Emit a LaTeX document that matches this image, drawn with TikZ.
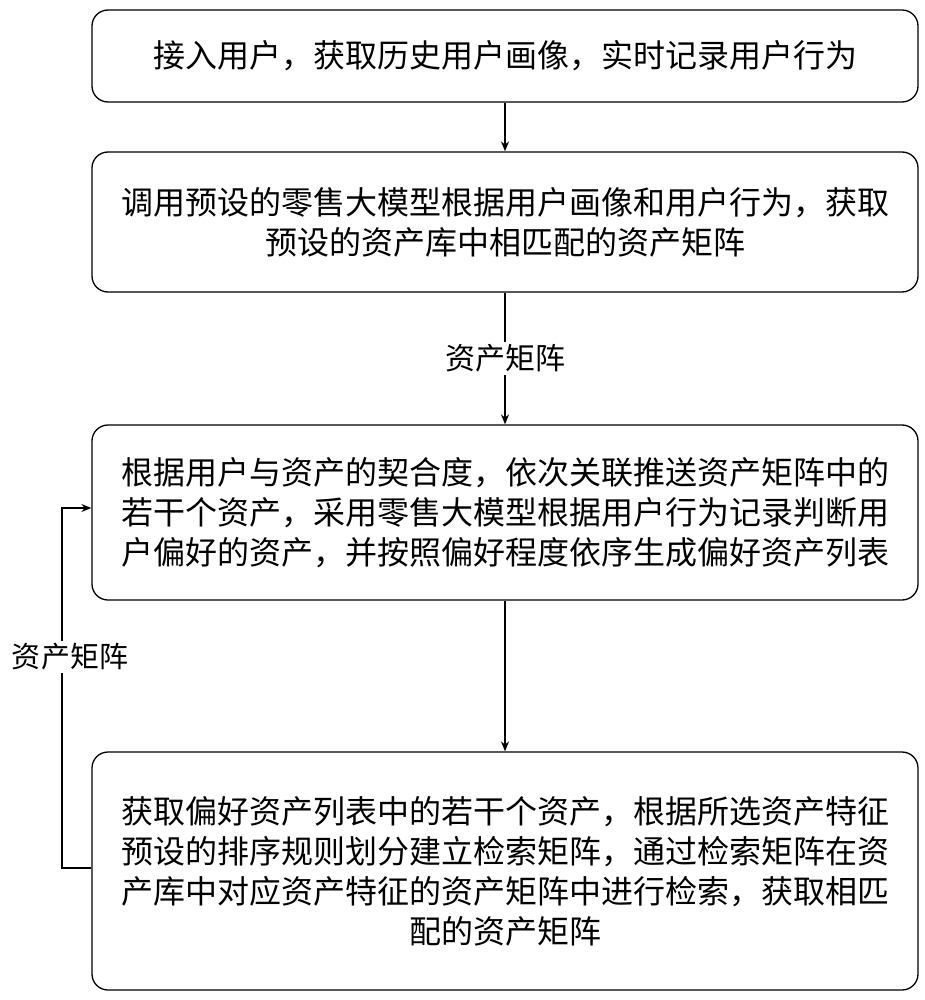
\documentclass[tikz,border=0pt]{standalone}
\usepackage{fontspec}
\newfontfamily\cjk{Noto Sans CJK SC}
\usetikzlibrary{arrows.meta}
\begin{document}
\begin{tikzpicture}[x=1pt,y=-1pt,
  box/.style={draw,line width=1.3pt,rounded corners=16pt,align=center,font=\cjk\fontsize{32}{40}\selectfont},
  lbl/.style={font=\cjk\fontsize{30}{40}\selectfont,fill=white,inner sep=3pt},
  arr/.style={-{Stealth[length=10pt,width=8pt]},line width=1.2pt}]
\useasboundingbox (0,0) rectangle (924,1000);
\node[box,minimum width=826pt,minimum height=92pt] (b1) at (505,56) {接入用户，获取历史用户画像，实时记录用户行为};
\node[box,minimum width=826pt,minimum height=140pt] (b2) at (505,222) {调用预设的零售大模型根据用户画像和用户行为，获取\\预设的资产库中相匹配的资产矩阵};
\node[box,minimum width=826pt,minimum height=175pt] (b3) at (505,512.5) {根据用户与资产的契合度，依次关联推送资产矩阵中的\\若干个资产，采用零售大模型根据用户行为记录判断用\\户偏好的资产，并按照偏好程度依序生成偏好资产列表};
\node[box,minimum width=826pt,minimum height=238pt] (b4) at (505,871) {获取偏好资产列表中的若干个资产，根据所选资产特征\\预设的排序规则划分建立检索矩阵，通过检索矩阵在资\\产库中对应资产特征的资产矩阵中进行检索，获取相匹\\配的资产矩阵};
\draw[arr] (b1) -- (b2);
\draw[arr] (b2) -- node[lbl]{资产矩阵} (b3);
\draw[arr] (b3) -- (b4);
\coordinate (c1) at (62,868);
\coordinate (c2) at (62,508);
\draw[arr] (b4.west |- c1) -- (c1) -- (c2) -- (b3.west |- c2);
\node[lbl,font=\cjk\fontsize{29}{40}\selectfont] (l2) at (70,657) {资产矩阵};
\end{tikzpicture}
\end{document}
